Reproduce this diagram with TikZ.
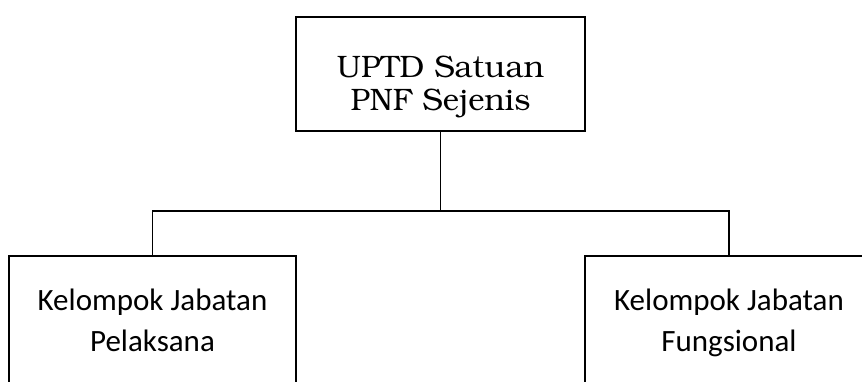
\documentclass[tikz,border=0pt]{standalone}
\usepackage[T1]{fontenc}
\usepackage{fontspec}
\newfontfamily\carlito{Carlito}
\newcommand{\bookfont}{\fontencoding{T1}\fontfamily{pbk}\selectfont}
\tikzset{unit/.style={rectangle, draw=black, line width=1.9pt, inner sep=0pt, outer sep=0pt},
link/.style={draw=black, line width=1.9pt},
toptext/.style={align=center, inner sep=0pt, font=\bookfont\fontsize{31}{33}\selectfont},
%text of the two lower boxes
subtext/.style={align=center, inner sep=0pt, font=\carlito\fontsize{31}{41}\selectfont}}

\begin{document}
\begin{tikzpicture}[x=1pt, y=-1pt]

\useasboundingbox (0,0) rectangle (862,381);
\clip (0,0) rectangle (862,381);

\node[unit, minimum width=289pt, minimum height=114pt] (uptd) at (440.5, 74.0) {};
\node[unit, minimum width=287pt, minimum height=200pt] (pelaksana) at (152.5, 356.0) {};
\node[unit, minimum width=288pt, minimum height=200pt] (fungsional) at (729.0, 356.0) {};

\node[toptext, anchor=north] (uptdtext) at ([yshift=-39pt]uptd.north) {UPTD Satuan\\PNF Sejenis};
\node[subtext, anchor=north] (pelaksanatext) at ([yshift=-33pt]pelaksana.north) {Kelompok Jabatan\\Pelaksana};
\node[subtext, anchor=north] (fungsionaltext) at ([yshift=-33pt]fungsional.north) {Kelompok Jabatan\\Fungsional};

\coordinate (bus) at ([yshift=-80pt]uptd.south);

\draw[link] (uptd.south) -- (bus);
\draw[link] (pelaksana.north) |- (bus) -| (fungsional.north);

\end{tikzpicture}
\end{document}
